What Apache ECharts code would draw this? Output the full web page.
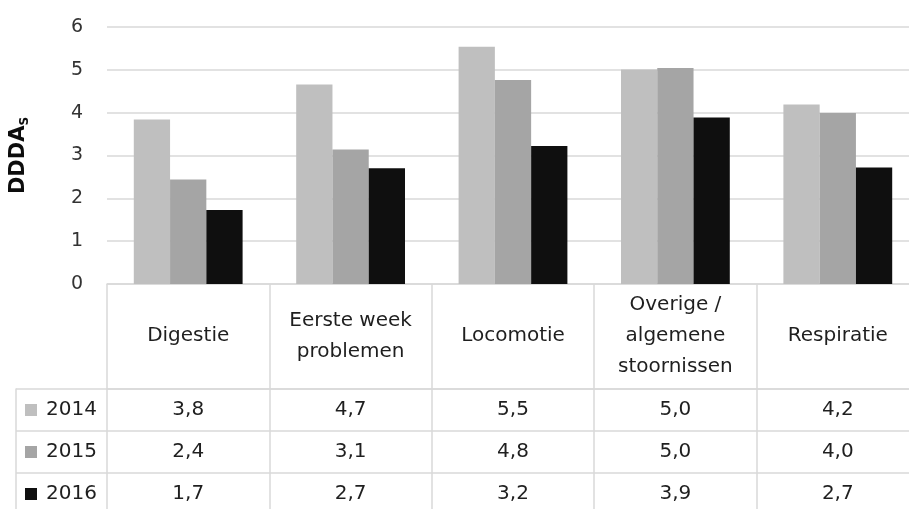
<!DOCTYPE html>
<html>
<head>
<meta charset="utf-8">
<script src="https://cdn.jsdelivr.net/npm/echarts@6/dist/echarts.min.js"></script>
<style>
  html, body { margin: 0; padding: 0; background: #fff; overflow: hidden; width: 909px; height: 509px; }
  #chart { width: 930px; height: 530px; }
</style>
</head>
<body>
<div id="chart"></div>
<script>
// Categories (header row of the data table)
const categories = ['Digestie', 'Eerste week\nproblemen', 'Locomotie', 'Overige /\nalgemene\nstoornissen', 'Respiratie'];
// Years (rows of the data table)
const years = ['2014', '2015', '2016'];
// DDDAs per category and year
const values2014 = [3.84, 4.66, 5.54, 5.01, 4.19];
const values2015 = [2.44, 3.14, 4.76, 5.04, 3.99];
const values2016 = [1.73, 2.70, 3.22, 3.89, 2.72];
// Y axis ticks
const yTicks = [0, 1, 2, 3, 4, 5, 6];

const seriesValues = [values2014, values2015, values2016];
const colors = ['#bfbfbf', '#a5a5a5', '#0f0f0f'];
const FONT = 'DejaVu Sans';
const LINE = '#d9d9d9';
const TXT = '#1f1f1f';

const plotLeft = 107, colWidth = 162.4, tableTop = 389, rowH = 42;
const totalW = colWidth * categories.length;

const fmt = v => v.toFixed(1).replace('.', ',');

const chart = echarts.init(document.getElementById('chart'), null, { renderer: 'canvas' });

const barSeries = years.map((y, i) => ({
  type: 'bar',
  name: y,
  xAxisIndex: 0, yAxisIndex: 0,
  data: seriesValues[i],
  barGap: '0%',
  barCategoryGap: '33%',
  itemStyle: { color: colors[i] },
  silent: true
}));

// value cells of the data table
const cellSeries = years.map((y, i) => ({
  type: 'scatter',
  name: y + ' cells',
  xAxisIndex: 2, yAxisIndex: 2,
  symbolSize: 1,
  itemStyle: { color: '#ffffff' },
  data: seriesValues[i].map((v, c) => [c, i, v]),
  label: {
    show: true, position: 'inside',
    formatter: p => fmt(p.value[2]),
    fontFamily: FONT, fontSize: 20, color: TXT, opacity: 1,
    textBorderWidth: 0
  },
  silent: true
}));

const legendRich = { sp: { width: 9 } };
years.forEach((y, i) => {
  legendRich['k' + i] = { width: 12, height: 12, backgroundColor: colors[i] };
  legendRich['t' + i] = { fontFamily: FONT, fontSize: 20, color: TXT };
});

chart.setOption({
  animation: false,
  backgroundColor: '#ffffff',
  grid: [
    // plot area
    { left: plotLeft, top: 27, width: totalW, height: 257 },
    // table header (category names)
    { left: plotLeft, top: 284, width: totalW, height: tableTop - 284 },
    // table body (values)
    { left: plotLeft, top: tableTop, width: totalW, height: rowH * 3 },
    // table legend column
    { left: 16, top: tableTop, width: plotLeft - 16, height: rowH * 3 }
  ],
  xAxis: [
    {
      gridIndex: 0, type: 'category', data: categories,
      axisLine: { show: true, lineStyle: { color: LINE, width: 1.5 } },
      axisTick: { show: false },
      splitLine: { show: false },
      axisLabel: {
        show: true, interval: 0, margin: 52, verticalAlign: 'middle',
        fontFamily: FONT, fontSize: 20, color: TXT, lineHeight: 31, align: 'center'
      }
    },
    {
      gridIndex: 1, type: 'category', data: categories,
      axisLine: { show: false }, axisTick: { show: false }, axisLabel: { show: false },
      splitLine: { show: true, lineStyle: { color: LINE, width: 1.5 } }
    },
    {
      gridIndex: 2, type: 'category', data: categories, position: 'top',
      axisLine: { show: true, lineStyle: { color: LINE, width: 1.5 } },
      axisTick: { show: false }, axisLabel: { show: false },
      splitLine: { show: true, lineStyle: { color: LINE, width: 1.5 } }
    },
    {
      gridIndex: 3, type: 'value', min: 0, max: 1, show: false
    }
  ],
  yAxis: [
    {
      gridIndex: 0, type: 'value', min: yTicks[0], max: yTicks[yTicks.length - 1], interval: 1,
      axisLine: { show: false }, axisTick: { show: false },
      splitLine: { show: true, lineStyle: { color: LINE, width: 1.5 } },
      axisLabel: { margin: 24, fontFamily: FONT, fontSize: 19, color: '#333333' },
      name: '{a|DDDA}{s|S}',
      nameLocation: 'middle', nameRotate: 90, nameGap: 76,
      nameTextStyle: {
        rich: {
          a: { fontFamily: FONT, fontSize: 21, fontWeight: 'bold', color: '#0d0d0d', lineHeight: 24 },
          s: { fontFamily: FONT, fontSize: 12, fontWeight: 'bold', color: '#0d0d0d', lineHeight: 24, verticalAlign: 'bottom', padding: [10, 0, 0, 0] }
        }
      }
    },
    {
      gridIndex: 1, type: 'value', show: false
    },
    {
      gridIndex: 2, type: 'category', data: years, inverse: true,
      axisLine: { show: false }, axisTick: { show: false }, axisLabel: { show: false },
      splitLine: { show: true, lineStyle: { color: LINE, width: 1.5 } }
    },
    {
      gridIndex: 3, type: 'category', data: years, inverse: true,
      axisLine: { show: true, lineStyle: { color: LINE, width: 1.5 } },
      axisTick: { show: false },
      splitLine: { show: true, lineStyle: { color: LINE, width: 1.5 } },
      axisLabel: {
        inside: true, margin: 9, align: 'left',
        formatter: (v, idx) => '{k' + idx + '|}{sp|}{t' + idx + '|' + v + '}',
        rich: legendRich
      }
    }
  ],
  series: barSeries.concat(cellSeries)
});
</script>
</body>
</html>
